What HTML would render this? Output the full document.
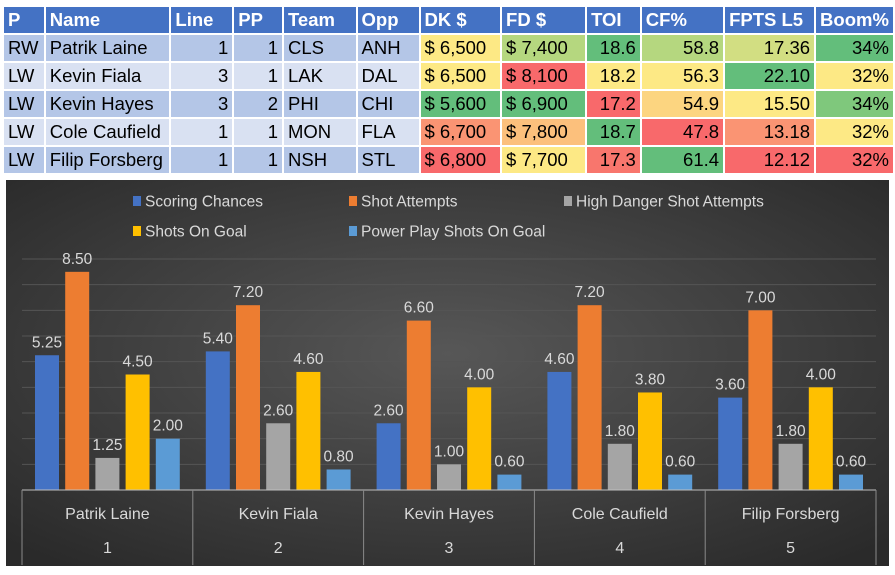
<!DOCTYPE html>
<html><head><meta charset="utf-8"><style>
body{margin:0;width:895px;height:575px;background:#fff;overflow:hidden;font-family:"Liberation Sans",sans-serif}
table{position:absolute;left:2px;top:5px;border-collapse:collapse;font-size:18.5px}
tr{height:28px}
td,th{border:2px solid #fff;padding:0 4px;white-space:nowrap}
th{background:#4472c4;color:#fff;text-align:left;font-weight:bold}
tr.a td{background:#b4c6e7}tr.b td{background:#d9e1f2}
td.r{text-align:right}
</style></head><body>
<table>
<tr><th style="width:32px">P</th><th style="width:116px">Name</th><th style="width:55px">Line</th><th style="width:42px">PP</th><th style="width:66px">Team</th><th style="width:55px">Opp</th><th style="width:73px">DK $</th><th style="width:77px">FD $</th><th style="width:46px">TOI</th><th style="width:78px">CF%</th><th style="width:82px">FPTS L5</th><th style="width:62px">Boom%</th></tr>
<tr class="a"><td>RW</td><td>Patrik Laine</td><td class="r">1</td><td class="r">1</td><td>CLS</td><td>ANH</td><td style="background:#fde985">$ 6,500</td><td style="background:#b5d77f">$ 7,400</td><td class="r" style="background:#63be7b">18.6</td><td class="r" style="background:#b5d77f">58.8</td><td class="r" style="background:#d2de82">17.36</td><td class="r" style="background:#63be7b">34%</td></tr>
<tr class="b"><td>LW</td><td>Kevin Fiala</td><td class="r">3</td><td class="r">1</td><td>LAK</td><td>DAL</td><td style="background:#fde985">$ 6,500</td><td style="background:#f8696b">$ 8,100</td><td class="r" style="background:#fde985">18.2</td><td class="r" style="background:#fde985">56.3</td><td class="r" style="background:#63be7b">22.10</td><td class="r" style="background:#fde985">32%</td></tr>
<tr class="a"><td>LW</td><td>Kevin Hayes</td><td class="r">3</td><td class="r">2</td><td>PHI</td><td>CHI</td><td style="background:#63be7b">$ 5,600</td><td style="background:#63be7b">$ 6,900</td><td class="r" style="background:#f8696b">17.2</td><td class="r" style="background:#fcd580">54.9</td><td class="r" style="background:#fde985">15.50</td><td class="r" style="background:#7fc87c">34%</td></tr>
<tr class="b"><td>LW</td><td>Cole Caufield</td><td class="r">1</td><td class="r">1</td><td>MON</td><td>FLA</td><td style="background:#fa9473">$ 6,700</td><td style="background:#fcc07c">$ 7,800</td><td class="r" style="background:#63be7b">18.7</td><td class="r" style="background:#f8696b">47.8</td><td class="r" style="background:#fa9473">13.18</td><td class="r" style="background:#fde985">32%</td></tr>
<tr class="a"><td>LW</td><td>Filip Forsberg</td><td class="r">1</td><td class="r">1</td><td>NSH</td><td>STL</td><td style="background:#f8696b">$ 6,800</td><td style="background:#fde985">$ 7,700</td><td class="r" style="background:#f8766d">17.3</td><td class="r" style="background:#63be7b">61.4</td><td class="r" style="background:#f8696b">12.12</td><td class="r" style="background:#f8696b">32%</td></tr>
</table>
<svg id="chart" style="position:absolute;left:0;top:0" width="895" height="575">
<defs>
<radialGradient id="bg" cx="50%" cy="45%" r="70%"><stop offset="0" stop-color="#575757"/><stop offset="1" stop-color="#2a2a2a"/></radialGradient>
</defs>
<rect x="6" y="180" width="883" height="386" fill="url(#bg)"/>
<g id="grid"></g><g id="bars"></g><g id="legend"></g><g id="axis"></g>
</svg>
<script>
const categories=["Patrik Laine","Kevin Fiala","Kevin Hayes","Cole Caufield","Filip Forsberg"];
const catIndex=["1","2","3","4","5"];
const seriesNames=["Scoring Chances","Shot Attempts","High Danger Shot Attempts","Shots On Goal","Power Play Shots On Goal"];
const scoringChances=[5.25,5.40,2.60,4.60,3.60];
const shotAttempts=[8.50,7.20,6.60,7.20,7.00];
const highDanger=[1.25,2.60,1.00,1.80,1.80];
const shotsOnGoal=[4.50,4.60,4.00,3.80,4.00];
const ppShotsOnGoal=[2.00,0.80,0.60,0.60,0.60];
const series=[scoringChances,shotAttempts,highDanger,shotsOnGoal,ppShotsOnGoal];
const colors=["#4472c4","#ed7d31","#a5a5a5","#ffc000","#5b9bd5"];
const NS="http://www.w3.org/2000/svg";
const x0=22,x1=876,yBase=490,yTop=259,vMax=9;
const gw=(x1-x0)/categories.length;
function y(v){return yBase-(v/vMax)*(yBase-yTop);}
function mk(t,a,p){const e=document.createElementNS(NS,t);for(const k in a)e.setAttribute(k,a[k]);p.appendChild(e);return e;}
const grid=document.getElementById('grid'),bars=document.getElementById('bars'),leg=document.getElementById('legend'),ax=document.getElementById('axis');
for(let v=1;v<=vMax;v++){const l=mk('line',{x1:x0,x2:x1,y1:y(v),y2:y(v),stroke:'#555','stroke-width':1},grid);

}
categories.forEach((c,i)=>{
  series.forEach((s,j)=>{
    const bx=x0+i*gw+13+j*30.2;
    const r=mk('rect',{x:bx,y:y(s[i]),width:24,height:yBase-y(s[i]),fill:colors[j]},bars);
    
    
    const t=mk('text',{x:bx+12,y:y(s[i])-8,'text-anchor':'middle',fill:'#d9d9d9','font-size':15.5},bars);
    t.textContent=s[i].toFixed(2);
    
    
  });
  const t=mk('text',{x:x0+i*gw+gw/2,y:519,'text-anchor':'middle',fill:'#d9d9d9','font-size':16},ax);
  t.textContent=c;
  
  
  const t2=mk('text',{x:x0+i*gw+gw/2,y:553,'text-anchor':'middle',fill:'#d9d9d9','font-size':16},ax);
  t2.textContent=catIndex[i];
  
  
});
mk('line',{x1:x0,x2:x1,y1:yBase,y2:yBase,stroke:'#bfbfbf'},ax);
for(let i=0;i<=categories.length;i++){const l=mk('line',{x1:x0+i*gw,x2:x0+i*gw,y1:yBase,y2:565,stroke:'#8a8a8a'},ax);

}
const lx=[133,349,564,133,349],ly=[201,201,201,231,231];
seriesNames.forEach((n,j)=>{
  const g=mk('g',{},leg);
  
  
  mk('rect',{x:lx[j],y:ly[j]-5,width:8,height:10,fill:colors[j]},g);
  const t=mk('text',{x:lx[j]+12,y:ly[j]+5.5,fill:'#d9d9d9','font-size':15.5},g);
  t.textContent=n;
});
</script>
</body></html>
